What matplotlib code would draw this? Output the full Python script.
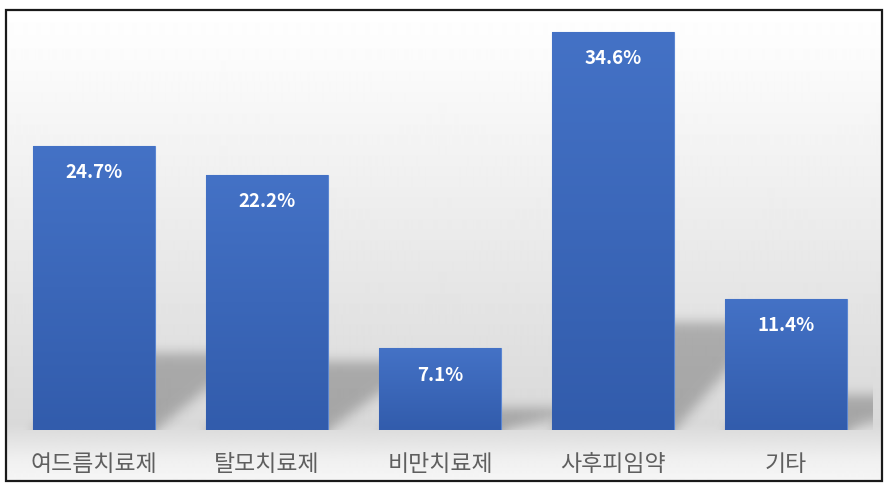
import numpy as np
import matplotlib
matplotlib.use('Agg')
import matplotlib.pyplot as plt
from matplotlib.patches import Rectangle

categories = ['여드름치료제', '탈모치료제', '비만치료제', '사후피임약', '기타']
values = [24.7, 22.2, 7.1, 34.6, 11.4]
value_labels = ['24.7%', '22.2%', '7.1%', '34.6%', '11.4%']

plt.rcParams['font.family'] = ['Noto Sans CJK KR', 'DejaVu Sans']

W, H = 889, 486
fig = plt.figure(figsize=(W / 100, H / 100), dpi=100)
fig.patch.set_facecolor('white')

# ---- background gradient + frame ----
ax_bg = fig.add_axes([0, 0, 1, 1], zorder=0)
ys = np.arange(10, 482)
g = np.interp(ys, [10, 60, 425, 460, 482], [1.0, 0.985, 0.85, 0.94, 0.965])
grad = np.repeat(g[:, None], 2, axis=1)
ax_bg.imshow(grad, cmap='gray', vmin=0, vmax=1, extent=[6, 882, 481, 10],
             aspect='auto', interpolation='bilinear')
ax_bg.set_xlim(0, W)
ax_bg.set_ylim(H, 0)
ax_bg.axis('off')
ax_bg.add_patch(Rectangle((6, 10), 876, 471, fill=False,
                          edgecolor='#1a1a1a', linewidth=1.6))

# ---- main axes ----
scale = (430 - 32) / 34.6
ymax = 35.0
top_px = 430 - ymax * scale
ax = fig.add_axes([7.5 / W, (H - 430) / H, 865 / W, (430 - top_px) / H], zorder=1)
ax.set_facecolor('none')
x = np.arange(len(categories))
width = 0.705

# shadows
ax.set_xlim(-0.5, 4.5)
ax.set_ylim(0, ymax)
nc, nr = 865, int(round(430 - top_px))
xs = -0.5 + (np.arange(nc) + 0.5) / nc * 5
yv = ymax - (np.arange(nr) + 0.5) / nr * ymax
XX, YY = np.meshgrid(xs, yv)
mask = np.zeros_like(XX)
for xi, v in zip(x, values):
    s = 0.27 * v
    dx = 0.55
    t = YY / s
    inside = (YY <= s) & (XX >= xi - width / 2 + dx * t) & (XX <= xi + width / 2 + dx * t)
    mask = np.maximum(mask, inside.astype(float))


def gblur(a, sigma):
    r = int(3 * sigma)
    k = np.exp(-0.5 * (np.arange(-r, r + 1) / sigma) ** 2)
    k /= k.sum()
    a = np.pad(a, r, mode='edge')
    a = np.apply_along_axis(lambda m: np.convolve(m, k, mode='same'), 0, a)
    a = np.apply_along_axis(lambda m: np.convolve(m, k, mode='same'), 1, a)
    return a[r:-r, r:-r]


mask = gblur(mask, 6)
rgba = np.zeros((nr, nc, 4))
rgba[..., 3] = mask * 0.24
ax.imshow(rgba, extent=[-0.5, 4.5, 0, ymax], aspect='auto',
          interpolation='bilinear', zorder=2)

# bars
bars = ax.bar(x, values, width=width, color='#3d68b8', edgecolor='#5b86d2',
              linewidth=0.8, zorder=3)
top_c = np.array([68, 114, 198]) / 255
bot_c = np.array([50, 92, 172]) / 255
tt = np.linspace(0, 1, 256)[:, None, None]
bar_grad = (top_c[None, None, :] * (1 - tt) + bot_c[None, None, :] * tt)
for b in bars:
    im = ax.imshow(bar_grad, extent=[b.get_x(), b.get_x() + b.get_width(), 0, b.get_height()],
                   aspect='auto', interpolation='bilinear', zorder=3.5)
    im.set_clip_path(b)

for xi, v, lbl in zip(x, values, value_labels):
    ax.annotate(lbl, (xi, v), xytext=(0, -27 * 0.72), textcoords='offset points',
                ha='center', va='center', color='white', fontsize=13.5,
                fontweight='bold', zorder=5)

ax.set_xlim(-0.5, 4.5)
ax.set_ylim(0, ymax)
ax.set_xticks(x, categories)
ax.tick_params(axis='x', length=0, pad=24.5, labelsize=16.5, labelcolor='#5f5f5f')
for t in ax.get_xticklabels():
    t.set_va('center')
ax.set_yticks([])
for sp in ax.spines.values():
    sp.set_visible(False)

fig.savefig('out.png', dpi=100)
